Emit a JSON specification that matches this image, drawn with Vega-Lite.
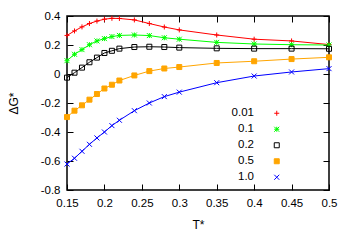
{
  "$schema": "https://vega.github.io/schema/vega-lite/v6.json",
  "width": 262,
  "height": 174,
  "autosize": "none",
  "padding": {"left": 67, "top": 16, "right": 25, "bottom": 58},
  "background": "white",
  "config": {
    "view": {"stroke": "black", "strokeWidth": 1.5},
    "font": "Liberation Sans",
    "axis": {
      "domain": false, "grid": false, "tickColor": "black", "tickSize": -6, "tickWidth": 1, "labelFlush": false,
      "labelFont": "Liberation Sans", "labelFontSize": 11.5, "labelColor": "black",
      "titleFont": "Liberation Sans", "titleFontSize": 12, "titleFontWeight": "normal", "titleColor": "black"
    }
  },
  "data": {"values": [
    {"t":0.15,"g":0.266,"c":"0.01"},{"t":0.16,"g":0.297,"c":"0.01"},{"t":0.17,"g":0.325,"c":"0.01"},{"t":0.18,"g":0.348,"c":"0.01"},
    {"t":0.19,"g":0.365,"c":"0.01"},{"t":0.20,"g":0.378,"c":"0.01"},{"t":0.21,"g":0.384,"c":"0.01"},{"t":0.22,"g":0.383,"c":"0.01"},
    {"t":0.24,"g":0.373,"c":"0.01"},{"t":0.26,"g":0.348,"c":"0.01"},{"t":0.28,"g":0.324,"c":"0.01"},{"t":0.30,"g":0.304,"c":"0.01"},
    {"t":0.35,"g":0.269,"c":"0.01"},{"t":0.40,"g":0.240,"c":"0.01"},{"t":0.45,"g":0.228,"c":"0.01"},{"t":0.50,"g":0.203,"c":"0.01"},
    {"t":0.15,"g":0.092,"c":"0.1"},{"t":0.16,"g":0.136,"c":"0.1"},{"t":0.17,"g":0.168,"c":"0.1"},{"t":0.18,"g":0.202,"c":"0.1"},
    {"t":0.19,"g":0.228,"c":"0.1"},{"t":0.20,"g":0.244,"c":"0.1"},{"t":0.21,"g":0.258,"c":"0.1"},{"t":0.22,"g":0.266,"c":"0.1"},
    {"t":0.24,"g":0.269,"c":"0.1"},{"t":0.26,"g":0.265,"c":"0.1"},{"t":0.28,"g":0.250,"c":"0.1"},{"t":0.30,"g":0.240,"c":"0.1"},
    {"t":0.35,"g":0.218,"c":"0.1"},{"t":0.40,"g":0.207,"c":"0.1"},{"t":0.45,"g":0.202,"c":"0.1"},{"t":0.50,"g":0.200,"c":"0.1"},
    {"t":0.15,"g":-0.025,"c":"0.2"},{"t":0.16,"g":0.009,"c":"0.2"},{"t":0.17,"g":0.044,"c":"0.2"},{"t":0.18,"g":0.081,"c":"0.2"},
    {"t":0.19,"g":0.113,"c":"0.2"},{"t":0.20,"g":0.145,"c":"0.2"},{"t":0.21,"g":0.160,"c":"0.2"},{"t":0.22,"g":0.175,"c":"0.2"},
    {"t":0.24,"g":0.186,"c":"0.2"},{"t":0.26,"g":0.188,"c":"0.2"},{"t":0.28,"g":0.186,"c":"0.2"},{"t":0.30,"g":0.182,"c":"0.2"},
    {"t":0.35,"g":0.177,"c":"0.2"},{"t":0.40,"g":0.175,"c":"0.2"},{"t":0.45,"g":0.175,"c":"0.2"},{"t":0.50,"g":0.174,"c":"0.2"},
    {"t":0.15,"g":-0.297,"c":"0.5"},{"t":0.16,"g":-0.253,"c":"0.5"},{"t":0.17,"g":-0.216,"c":"0.5"},{"t":0.18,"g":-0.177,"c":"0.5"},
    {"t":0.19,"g":-0.138,"c":"0.5"},{"t":0.20,"g":-0.100,"c":"0.5"},{"t":0.21,"g":-0.074,"c":"0.5"},{"t":0.22,"g":-0.045,"c":"0.5"},
    {"t":0.24,"g":-0.010,"c":"0.5"},{"t":0.26,"g":0.020,"c":"0.5"},{"t":0.28,"g":0.038,"c":"0.5"},{"t":0.30,"g":0.048,"c":"0.5"},
    {"t":0.35,"g":0.076,"c":"0.5"},{"t":0.40,"g":0.088,"c":"0.5"},{"t":0.45,"g":0.103,"c":"0.5"},{"t":0.50,"g":0.115,"c":"0.5"},
    {"t":0.15,"g":-0.621,"c":"1.0"},{"t":0.16,"g":-0.581,"c":"1.0"},{"t":0.17,"g":-0.533,"c":"1.0"},{"t":0.18,"g":-0.485,"c":"1.0"},
    {"t":0.19,"g":-0.441,"c":"1.0"},{"t":0.20,"g":-0.400,"c":"1.0"},{"t":0.21,"g":-0.356,"c":"1.0"},{"t":0.22,"g":-0.319,"c":"1.0"},
    {"t":0.24,"g":-0.253,"c":"1.0"},{"t":0.26,"g":-0.200,"c":"1.0"},{"t":0.28,"g":-0.156,"c":"1.0"},{"t":0.30,"g":-0.125,"c":"1.0"},
    {"t":0.35,"g":-0.060,"c":"1.0"},{"t":0.40,"g":-0.014,"c":"1.0"},{"t":0.45,"g":0.014,"c":"1.0"},{"t":0.50,"g":0.037,"c":"1.0"}
  ]},
  "resolve": {"axis": {"x": "independent", "y": "independent"}},
  "layer": [
    {
      "mark": {"type": "line", "strokeWidth": 1},
      "encoding": {
        "x": {"field": "t", "type": "quantitative", "scale": {"domain": [0.15, 0.5], "nice": false, "zero": false},
              "axis": {"orient": "bottom", "title": "T*", "values": [0.15,0.2,0.25,0.3,0.35,0.4,0.45,0.5], "labelExpr": "'' + datum.value", "labelPadding": 13, "titlePadding": 11}},
        "y": {"field": "g", "type": "quantitative", "scale": {"domain": [-0.8, 0.4], "nice": false, "zero": false},
              "axis": {"orient": "left", "title": "ΔG*", "values": [-0.8,-0.6,-0.4,-0.2,0,0.2,0.4], "labelExpr": "'' + datum.value", "labelPadding": 13, "titlePadding": 20}},
        "color": {"field": "c", "type": "nominal", "title": null,
                  "scale": {"domain": ["0.01","0.1","0.2","0.5","1.0"], "range": ["#ff0000","#00ff00","#000000","#ffa500","#0000ff"]},
                  "legend": {
                    "orient": "none", "legendX": 204, "legendY": 91.5, "padding": 0,
                    "labelAlign": "right", "labelOffset": -28.5, "symbolOffset": 0,
                    "rowPadding": 3,
                    "labelFont": "Liberation Sans", "labelFontSize": 11.5, "labelColor": "black",
                    "symbolStrokeWidth": 1, "symbolSize": 25,
                    "encode": {"symbols": {"update": {
                      "shape": {"signal": "datum.value == '0.01' ? 'M-8,0L8,0M0,-1L0,1' : datum.value == '0.1' ? 'M-8,0L8,0M0,-1L0,1M-1,-1L1,1M-1,1L1,-1' : datum.value == '0.2' ? 'M-8,0L-1,0M1,0L8,0M-1,-1L1,-1L1,1L-1,1Z' : datum.value == '0.5' ? 'M-8,0L8,0M-1,-1L1,-1L1,1L-1,1Z' : 'M-8,0L8,0M-1,-1L1,1M-1,1L1,-1'"},
                      "fill": {"signal": "datum.value == '0.5' ? '#ffa500' : 'transparent'"},
                      "stroke": {"signal": "datum.value == '0.01' ? '#ff0000' : datum.value == '0.1' ? '#00ff00' : datum.value == '0.2' ? '#000000' : datum.value == '0.5' ? '#ffa500' : '#0000ff'"},
                      "strokeWidth": {"value": 1},
                      "size": {"value": 25},
                      "opacity": {"value": 1}
                    }}}
                  }}
      }
    },
    {
      "mark": {"type": "point", "filled": false, "size": 25, "strokeWidth": 1, "opacity": 1},
      "encoding": {
        "x": {"field": "t", "type": "quantitative",
              "axis": {"orient": "top", "title": null, "labels": false, "values": [0.15,0.2,0.25,0.3,0.35,0.4,0.45,0.5]}},
        "y": {"field": "g", "type": "quantitative",
              "axis": {"orient": "right", "title": null, "labels": false, "values": [-0.8,-0.6,-0.4,-0.2,0,0.2,0.4]}},
        "stroke": {"field": "c", "type": "nominal", "legend": null,
                   "scale": {"domain": ["0.01","0.1","0.2","0.5","1.0"], "range": ["#ff0000","#00ff00","#000000","#ffa500","#0000ff"]}},
        "shape": {"field": "c", "type": "nominal", "legend": null,
                  "scale": {"domain": ["0.01","0.1","0.2","0.5","1.0"],
                            "range": ["M-1,0H1M0,-1V1", "M-1,0H1M0,-1V1M-1,-1L1,1M-1,1L1,-1", "M-1,-1H1V1H-1Z", "M-1,-1H1V1H-1Z", "M-1,-1L1,1M-1,1L1,-1"]}},
        "fill": {"condition": {"test": "datum.c == '0.5'", "value": "#ffa500"}, "value": "transparent"}
      }
    }
  ]
}
